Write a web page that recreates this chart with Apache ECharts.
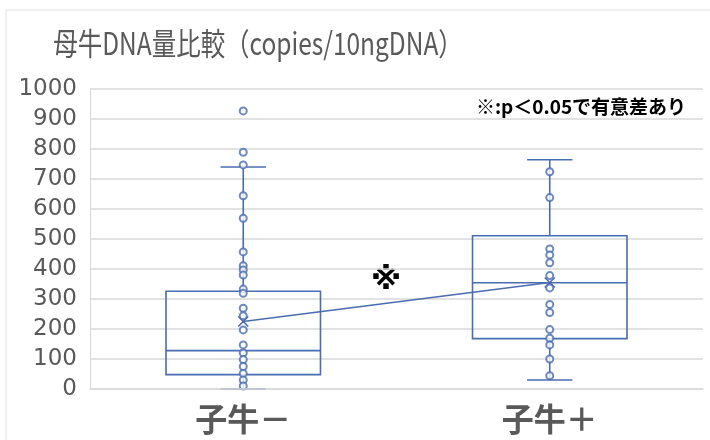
<!DOCTYPE html>
<html>
<head>
<meta charset="utf-8">
<script src="https://cdn.jsdelivr.net/npm/echarts@6/dist/echarts.min.js"></script>
<style>
  html, body { margin: 0; padding: 0; background: #ffffff; }
  #chart { width: 710px; height: 440px; }
</style>
</head>
<body>
<div id="chart"></div>
<script>
// Groups on the x axis
const categories = ['子牛－', '子牛＋'];
// Box statistics per group: [lower whisker, Q1, median, Q3, upper whisker]
const boxStats = [
  [0, 48, 128, 326, 740],
  [30, 168, 354, 511, 764]
];
// Group means (drawn as × and joined by a line)
const means = [225, 355];
// Individual measurements per group
const pointsMinus = [927, 789, 747, 644, 569, 457, 411, 397, 380, 333, 319, 269, 244, 197, 147, 120, 98, 75, 52, 30, 10];
const pointsPlus = [724, 638, 467, 447, 421, 378, 337, 282, 255, 198, 169, 147, 100, 44];
// Y axis range and step
const yMin = 0, yMax = 1000, yStep = 100;

const blue = '#4a6cb0';
const textGray = '#595959';
const gridGray = '#d9d9d9';

const chart = echarts.init(document.getElementById('chart'));

const boxData = boxStats.map((s, i) => [i].concat(s, [means[i]]));
const scatterData = [];
pointsMinus.forEach(v => scatterData.push([0, v]));
pointsPlus.forEach(v => scatterData.push([1, v]));

function renderBox(params, api) {
  const idx = api.value(0);
  const band = api.size([1, 0])[0];
  const x = api.coord([idx, 0])[0];
  const y = v => api.coord([idx, v])[1];
  const low = y(api.value(1)), q1 = y(api.value(2)), med = y(api.value(3));
  const q3 = y(api.value(4)), high = y(api.value(5)), mean = y(api.value(6));
  const hw = band * 0.252;
  const cw = band * 0.074;
  const mk = 5;
  const st = { stroke: blue, lineWidth: 1.6, fill: 'none' };
  const line = (x1, y1, x2, y2) => ({ type: 'line', shape: { x1, y1, x2, y2 }, style: st });
  return {
    type: 'group',
    children: [
      line(x, high, x, q3),
      line(x, q1, x, low),
      line(x - cw, high, x + cw, high),
      line(x - cw, low, x + cw, low),
      { type: 'rect', shape: { x: x - hw, y: q3, width: hw * 2, height: q1 - q3 }, style: st },
      line(x - hw, med, x + hw, med),
      line(x - mk, mean - mk, x + mk, mean + mk),
      line(x - mk, mean + mk, x + mk, mean - mk)
    ]
  };
}

chart.setOption({
  animation: false,
  backgroundColor: '#ffffff',
  graphic: [
    { type: 'rect', shape: { x: 6, y: 10, width: 720, height: 450 },
      style: { fill: 'none', stroke: '#e3e3e3', lineWidth: 1 }, z: -1 },
    // chart title, slightly condensed
    { type: 'text', x: 258, y: 43, scaleX: 0.79,
      style: { text: '母牛DNA量比較（copies/10ngDNA）', fontFamily: 'Noto Sans CJK JP', fontSize: 31,
               fill: textGray, align: 'center', verticalAlign: 'middle' } },
    { type: 'text', x: 581, y: 107,
      style: { text: '※:p＜0.05で有意差あり', fontFamily: 'Noto Sans CJK JP', fontSize: 19, fontWeight: 'bold',
               fill: '#000000', align: 'center', verticalAlign: 'middle' } },
    // significance mark between the groups
    { type: 'text', x: 386, y: 281,
      style: { text: '※', fontFamily: 'DejaVu Sans', fontSize: 31, fontWeight: 'bold', fill: '#000000',
               align: 'center', verticalAlign: 'middle' } }
  ],
  grid: { left: 90, right: 7, top: 89, bottom: 51, containLabel: false },
  xAxis: {
    type: 'category',
    data: categories,
    boundaryGap: true,
    z: 10,
    axisLine: { show: true, lineStyle: { color: gridGray, width: 1.5 } },
    axisTick: { show: false },
    axisLabel: { margin: 14, fontFamily: 'Noto Sans CJK JP', fontSize: 32, fontWeight: 'bold', color: textGray }
  },
  yAxis: {
    type: 'value',
    min: yMin, max: yMax, interval: yStep,
    axisLine: { show: true, lineStyle: { color: gridGray, width: 1 } },
    axisTick: { show: false },
    splitLine: { lineStyle: { color: gridGray, width: 1.5 } },
    axisLabel: { margin: 13, fontFamily: 'DejaVu Sans', fontSize: 23, color: textGray,
                 formatter: v => String(v) }
  },
  series: [
    {
      type: 'custom',
      renderItem: renderBox,
      data: boxData,
      encode: { x: 0, y: [1, 2, 3, 4, 5, 6] },
      z: 2
    },
    {
      type: 'line',
      data: means,
      symbol: 'none',
      lineStyle: { color: blue, width: 1.6 },
      z: 2
    },
    {
      type: 'scatter',
      data: scatterData,
      symbol: 'emptyCircle',
      symbolSize: 7,
      itemStyle: { color: blue, borderColor: blue, borderWidth: 1.6 },
      z: 3
    }
  ]
});
</script>
</body>
</html>
